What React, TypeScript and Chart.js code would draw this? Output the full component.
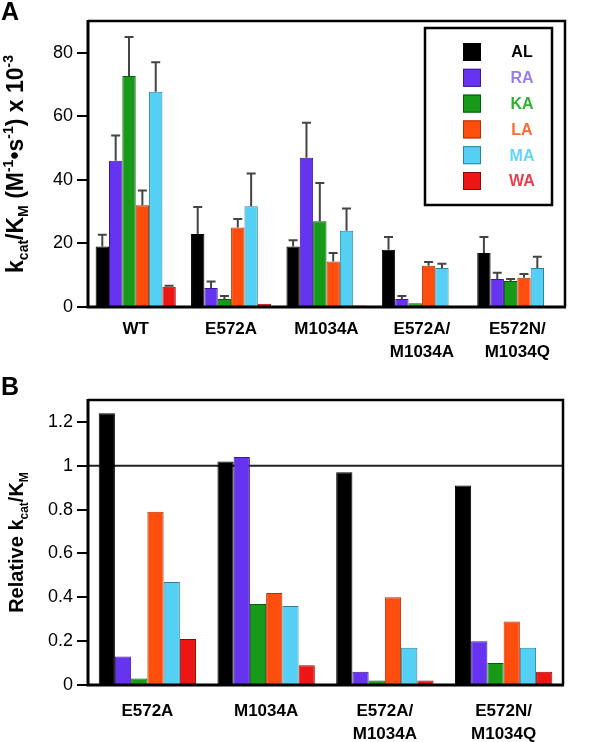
import React, { useEffect, useRef } from 'react';
import { Chart, registerables } from 'chart.js';

Chart.register(...registerables);

// ---------- data ----------
const seriesNames = ['AL', 'RA', 'KA', 'LA', 'MA', 'WA'];
const barColors = ['#000000', '#6633f0', '#179a17', '#ff4d0d', '#55d0f5', '#ee1515'];
const barBorders = ['#000000', '#3a1a90', '#0d5a0d', '#a83408', '#2a84a0', '#8a0a0a'];
const legendTextColors = ['#000000', '#9a7cf2', '#33b033', '#ff6a35', '#62d6f8', '#ee3d4d'];

const categoriesA = ['WT', 'E572A', 'M1034A', ['E572A/', 'M1034A'], ['E572N/', 'M1034Q']];
const AL_A = [19, 23, 19, 18, 17];
const RA_A = [46, 6, 47, 2.5, 8.8];
const KA_A = [72.7, 2.5, 27, 1.2, 8.2];
const LA_A = [32, 25, 14.3, 13, 9.2];
const MA_A = [67.7, 31.7, 24, 12.3, 12.3];
const WA_A = [6.4, 1, 0.5, 0, 0];
const errAL_A = [3.7, 8.5, 2, 4, 5];
const errRA_A = [8, 2, 11, 1, 2];
const errKA_A = [12.3, 1, 12, 0, 0.6];
const errLA_A = [4.7, 2.7, 2.7, 1.2, 1.2];
const errMA_A = [9.3, 10.3, 7, 1.3, 3.5];
const errWA_A = [0.3, 0, 0, 0, 0];
const yTicksA = [0, 20, 40, 60, 80];
const yMaxA = 90;

const categoriesB = ['E572A', 'M1034A', ['E572A/', 'M1034A'], ['E572N/', 'M1034Q']];
const AL_B = [1.24, 1.02, 0.97, 0.91];
const RA_B = [0.13, 1.04, 0.06, 0.2];
const KA_B = [0.03, 0.37, 0.02, 0.1];
const LA_B = [0.79, 0.42, 0.4, 0.29];
const MA_B = [0.47, 0.36, 0.17, 0.17];
const WA_B = [0.21, 0.09, 0.02, 0.06];
const yTicksB = [0, 0.2, 0.4, 0.6, 0.8, 1, 1.2];
const yTickLabelsB = ['0', '0.2', '0.4', '0.6', '0.8', '1', '1.2'];
const yMaxB = 1.3;
const refLineB = 1;

const titleA: [string, string][] = [
  ['k', 'n'], ['cat', 'sub'], ['/K', 'n'], ['M', 'sub'], [' (M', 'n'], ['-1', 'sup'],
  ['•s', 'n'], ['-1', 'sup'], [') x 10', 'n'], ['-3', 'sup'],
];
const titleB: [string, string][] = [
  ['Relative k', 'n'], ['cat', 'sub'], ['/K', 'n'], ['M', 'sub'],
];

const FONT = '"Liberation Sans", Arial, Helvetica, sans-serif';

// ---------- plugins ----------
const errorBarPlugin = {
  id: 'errbars',
  afterDatasetsDraw(chart: any, _args: any, opts: any) {
    if (!opts || !opts.errors) return;
    const ctx = chart.ctx;
    const y = chart.scales.y;
    ctx.save();
    ctx.strokeStyle = opts.color || '#444';
    ctx.lineWidth = 2;
    chart.data.datasets.forEach((ds: any, di: number) => {
      const errs = opts.errors[di];
      if (!errs) return;
      const meta = chart.getDatasetMeta(di);
      meta.data.forEach((bar: any, i: number) => {
        const e = errs[i];
        if (!e) return;
        const v = ds.data[i];
        const yb = y.getPixelForValue(v);
        const yt = y.getPixelForValue(v + e);
        ctx.beginPath();
        ctx.moveTo(bar.x, yb);
        ctx.lineTo(bar.x, yt);
        ctx.moveTo(bar.x - 4.5, yt);
        ctx.lineTo(bar.x + 4.5, yt);
        ctx.stroke();
      });
    });
    ctx.restore();
  },
};

const refLinePlugin = {
  id: 'refline',
  beforeDatasetsDraw(chart: any, _args: any, opts: any) {
    if (!opts || opts.value === undefined) return;
    const { ctx, chartArea } = chart;
    const yy = chart.scales.y.getPixelForValue(opts.value);
    ctx.save();
    ctx.strokeStyle = '#222';
    ctx.lineWidth = 2;
    ctx.beginPath();
    ctx.moveTo(chartArea.left, yy);
    ctx.lineTo(chartArea.right, yy);
    ctx.stroke();
    ctx.restore();
  },
};

const framePlugin = {
  id: 'frame',
  afterDatasetsDraw(chart: any) {
    const { ctx, chartArea } = chart;
    const { left, right, top, bottom } = chartArea;
    ctx.save();
    ctx.strokeStyle = '#000';
    ctx.lineWidth = 2.5;
    ctx.beginPath();
    ctx.moveTo(left, top);
    ctx.lineTo(right, top);
    ctx.lineTo(right, bottom);
    ctx.stroke();
    ctx.lineWidth = 3;
    ctx.beginPath();
    ctx.moveTo(left, top - 1);
    ctx.lineTo(left, bottom);
    ctx.lineTo(right + 1, bottom);
    ctx.stroke();
    ctx.restore();
  },
};

function drawRich(ctx: CanvasRenderingContext2D, segs: [string, string][], size: number) {
  const small = Math.round(size * 0.62);
  const fontFor = (m: string) => `bold ${m === 'n' ? size : small}px ${FONT}`;
  let total = 0;
  segs.forEach(([t, m]) => {
    ctx.font = fontFor(m);
    total += ctx.measureText(t).width;
  });
  let x = -total / 2;
  const base = size * 0.36;
  segs.forEach(([t, m]) => {
    ctx.font = fontFor(m);
    const dy = m === 'sub' ? base + size * 0.22 : m === 'sup' ? base - size * 0.45 : base;
    ctx.fillText(t, x, dy);
    x += ctx.measureText(t).width;
  });
}

const yTitlePlugin = {
  id: 'ytitle',
  afterDraw(chart: any, _args: any, opts: any) {
    if (!opts || !opts.segments) return;
    const { ctx, chartArea } = chart;
    ctx.save();
    ctx.translate(opts.x, (chartArea.top + chartArea.bottom) / 2);
    ctx.rotate(-Math.PI / 2);
    ctx.fillStyle = '#000';
    ctx.textAlign = 'left';
    ctx.textBaseline = 'alphabetic';
    drawRich(ctx, opts.segments, opts.size);
    ctx.restore();
  },
};

const boxLegendPlugin = {
  id: 'boxlegend',
  afterDraw(chart: any, _args: any, opts: any) {
    if (!opts || !opts.show) return;
    const { ctx, chartArea } = chart;
    const bx = chartArea.right - 140;
    const by = chartArea.top + 7;
    const bw = 127;
    const bh = 177;
    ctx.save();
    ctx.fillStyle = '#fff';
    ctx.fillRect(bx, by, bw, bh);
    ctx.strokeStyle = '#000';
    ctx.lineWidth = 2.5;
    ctx.strokeRect(bx, by, bw, bh);
    ctx.textAlign = 'center';
    ctx.textBaseline = 'middle';
    ctx.font = `bold 16px ${FONT}`;
    chart.data.datasets.forEach((ds: any, i: number) => {
      const cy = by + 24 + i * 25.8;
      ctx.fillStyle = ds.backgroundColor;
      ctx.fillRect(bx + 38, cy - 9, 18, 18);
      ctx.strokeStyle = ds.borderColor;
      ctx.lineWidth = 1;
      ctx.strokeRect(bx + 38.5, cy - 8.5, 17, 17);
      ctx.fillStyle = legendTextColors[i];
      ctx.fillText(ds.label, bx + 97, cy + 1);
    });
    ctx.restore();
  },
};

function makeDatasets(series: number[][], catPct: number) {
  return seriesNames.map((name, i) => ({
    label: name,
    data: series[i],
    backgroundColor: barColors[i],
    borderColor: barBorders[i],
    borderWidth: 1,
    borderSkipped: 'start',
    categoryPercentage: catPct,
    barPercentage: 1.0,
  }));
}

function baseOptions(o: any) {
  return {
    responsive: false,
    maintainAspectRatio: false,
    animation: false,
    events: [],
    layout: { padding: { top: o.padTop, right: o.padRight, left: 0, bottom: 0 } },
    plugins: {
      legend: { display: false },
      tooltip: { enabled: false },
      ...o.plugins,
    },
    scales: {
      x: {
        type: 'category',
        grid: { display: false, drawTicks: false },
        border: { display: false },
        ticks: {
          color: '#000',
          font: { family: FONT, size: 17, weight: 'bold', lineHeight: 1.33 },
          padding: o.xPad,
          maxRotation: 0,
          minRotation: 0,
          autoSkip: false,
        },
        afterFit: (s: any) => { s.height = o.xHeight; },
      },
      y: {
        min: 0,
        max: o.yMax,
        grid: { drawOnChartArea: false, drawTicks: true, tickLength: 11, color: '#000', lineWidth: 2 },
        border: { display: false },
        ticks: {
          color: '#000',
          font: { family: FONT, size: 18 },
          padding: 4,
          callback: o.tickCb,
        },
        afterBuildTicks: (s: any) => { s.ticks = o.yTicks.map((v: number) => ({ value: v })); },
        afterFit: (s: any) => { s.width = 88; },
      },
    },
  };
}

function BarPanel(props: { cfg: () => any; width: number; height: number; top: number }) {
  const ref = useRef<HTMLCanvasElement | null>(null);
  useEffect(() => {
    if (!ref.current) return;
    const chart = new Chart(ref.current, props.cfg());
    return () => chart.destroy();
  }, []);
  return (
    <canvas
      ref={ref}
      width={props.width}
      height={props.height}
      style={{ position: 'absolute', left: 0, top: props.top, width: props.width, height: props.height }}
    />
  );
}

const cfgA = () => ({
  type: 'bar',
  data: {
    labels: categoriesA,
    datasets: makeDatasets([AL_A, RA_A, KA_A, LA_A, MA_A, WA_A], 0.84),
  },
  options: baseOptions({
    padTop: 21,
    padRight: 35,
    xHeight: 78,
    xPad: 11.5,
    yMax: yMaxA,
    yTicks: yTicksA,
    tickCb: (v: any) => String(v),
    plugins: {
      errbars: { errors: [errAL_A, errRA_A, errKA_A, errLA_A, errMA_A, errWA_A], color: '#444' },
      ytitle: { segments: titleA, size: 23, x: 15 },
      boxlegend: { show: true },
    },
  }),
  plugins: [errorBarPlugin, framePlugin, yTitlePlugin, boxLegendPlugin],
});

const cfgB = () => ({
  type: 'bar',
  data: {
    labels: categoriesB,
    datasets: makeDatasets([AL_B, RA_B, KA_B, LA_B, MA_B, WA_B], 0.82),
  },
  options: baseOptions({
    padTop: 15,
    padRight: 37,
    xHeight: 57,
    xPad: 15.5,
    yMax: yMaxB,
    yTicks: yTicksB,
    tickCb: (v: any) => {
      const idx = yTicksB.findIndex((t) => Math.abs(t - v) < 1e-9);
      return idx >= 0 ? yTickLabelsB[idx] : '';
    },
    plugins: {
      refline: { value: refLineB },
      ytitle: { segments: titleB, size: 20, x: 16 },
    },
  }),
  plugins: [refLinePlugin, framePlugin, yTitlePlugin],
});

const letterStyle: React.CSSProperties = {
  position: 'absolute',
  left: 1,
  fontFamily: FONT,
  fontWeight: 'bold',
  fontSize: 25,
  lineHeight: '25px',
  color: '#000',
};

export default function App() {
  return (
    <div style={{ position: 'absolute', left: 0, top: 0, width: 600, height: 742, background: '#fff', overflow: 'hidden' }}>
      <BarPanel cfg={cfgA} width={600} height={385} top={0} />
      <BarPanel cfg={cfgB} width={600} height={357} top={385} />
      <div style={{ ...letterStyle, top: -1 }}>A</div>
      <div style={{ ...letterStyle, top: 374 }}>B</div>
    </div>
  );
}
